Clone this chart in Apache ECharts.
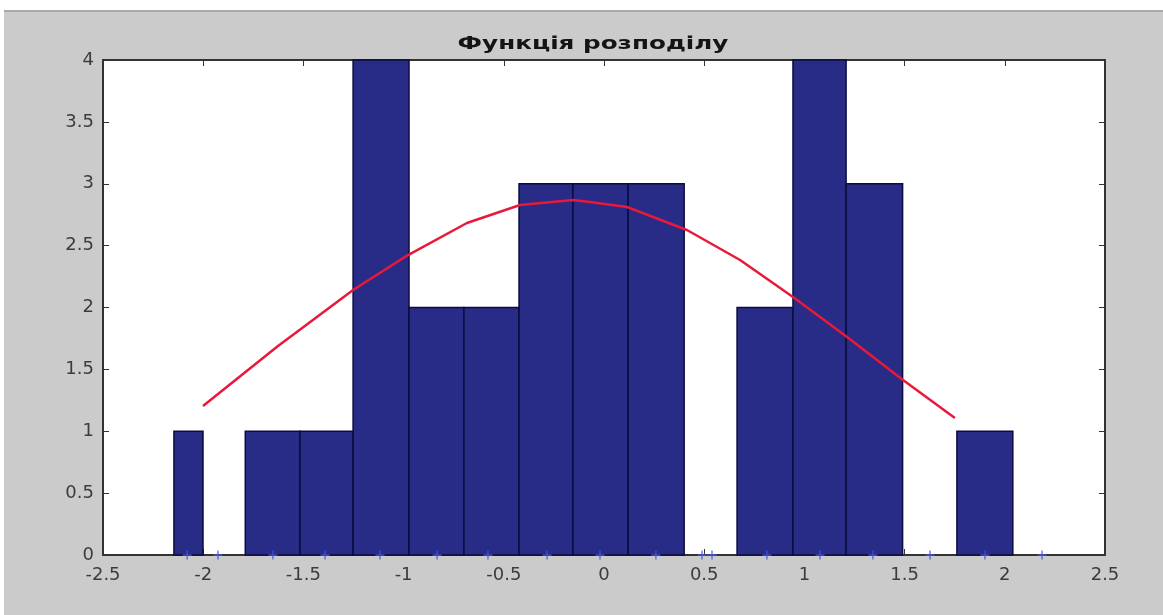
<!DOCTYPE html>
<html>
<head>
<meta charset="utf-8">
<script src="https://cdn.jsdelivr.net/npm/echarts@6/dist/echarts.min.js"></script>
<style>
  html, body { margin: 0; padding: 0; background: #ffffff; }
  #frame { position: absolute; left: 4px; top: 10px; width: 1159px; height: 605px; background: #cbcbcb; border-top: 2px solid #a9a9a9; }
  #chart { position: absolute; left: 0; top: 0; width: 1163px; height: 615px; }
</style>
</head>
<body>
<div id="frame"></div>
<div id="chart"></div>
<script>
// Histogram bins: left edge, right edge, count
const binLeft  = [-2.146, -1.79, -1.517, -1.252, -0.973, -0.699, -0.424, -0.155, 0.12, 0.664, 0.943, 1.208, 1.761];
const binRight = [-2.001, -1.517, -1.252, -0.973, -0.699, -0.424, -0.155, 0.12, 0.40, 0.943, 1.208, 1.49, 2.04];
const counts   = [1, 1, 1, 4, 2, 2, 3, 3, 3, 2, 4, 3, 1];

// Fitted density curve
const curveX = [-2.001, -1.63, -1.252, -0.978, -0.684, -0.419, -0.155, -0.07, 0.115, 0.414, 0.679, 0.943, 1.213, 1.492, 1.751];
const curveY = [1.204, 1.685, 2.141, 2.424, 2.683, 2.828, 2.869, 2.853, 2.812, 2.626, 2.384, 2.085, 1.762, 1.414, 1.107];

// Sample positions marked along the x axis
const markX = [-2.08, -1.926, -1.652, -1.392, -1.118, -0.833, -0.579, -0.284, -0.02, 0.259, 0.489, 0.539, 0.813, 1.078, 1.342, 1.627, 1.901, 2.186];

const xTicks = { min: -2.5, max: 2.5, interval: 0.5 };
const yTicks = { min: 0, max: 4, interval: 0.5 };

const titleText = 'Функція розподілу';

const labelFont = { fontFamily: 'DejaVu Sans, sans-serif', fontSize: 18, color: '#3c3c3c' };

const chart = echarts.init(document.getElementById('chart'), null, { renderer: 'canvas' });

const plusPath = 'path://M-0.7,-5 h1.4 v4.3 h4.3 v1.4 h-4.3 v4.3 h-1.4 v-4.3 h-4.3 v-1.4 h4.3 z';
const frameLine = { color: '#333', width: 2 };

chart.setOption({
  backgroundColor: 'transparent',
  animation: false,
  graphic: [
    {
      type: 'text',
      x: 593, y: 45,
      scaleX: 1.45,
      style: {
        text: titleText,
        align: 'center', verticalAlign: 'middle',
        font: 'bold 17px "DejaVu Sans", sans-serif',
        fill: '#141414'
      }
    }
  ],
  grid: { left: 103, right: 58, top: 60, bottom: 60, show: true, backgroundColor: '#ffffff', borderWidth: 0 },
  xAxis: [
    {
      type: 'value', min: xTicks.min, max: xTicks.max, interval: xTicks.interval,
      axisLine: { onZero: false, lineStyle: frameLine },
      axisTick: { inside: true, length: 6, lineStyle: { color: '#333' } },
      axisLabel: Object.assign({ margin: 11 }, labelFont),
      splitLine: { show: false }
    },
    {
      type: 'value', position: 'top', min: xTicks.min, max: xTicks.max, interval: xTicks.interval,
      axisLine: { onZero: false, lineStyle: frameLine },
      axisTick: { inside: true, length: 6, lineStyle: { color: '#333' } },
      axisLabel: { show: false }, splitLine: { show: false }
    }
  ],
  yAxis: [
    {
      type: 'value', min: yTicks.min, max: yTicks.max, interval: yTicks.interval,
      axisLine: { show: true, onZero: false, lineStyle: frameLine },
      axisTick: { show: true, inside: true, length: 6, lineStyle: { color: '#333' } },
      axisLabel: Object.assign({ margin: 9 }, labelFont),
      splitLine: { show: false }
    },
    {
      type: 'value', position: 'right', min: yTicks.min, max: yTicks.max, interval: yTicks.interval,
      axisLine: { show: true, onZero: false, lineStyle: frameLine },
      axisTick: { show: true, inside: true, length: 6, lineStyle: { color: '#333' } },
      axisLabel: { show: false }, splitLine: { show: false }
    }
  ],
  series: [
    {
      type: 'custom',
      name: 'hist',
      z: 2,
      data: binLeft.map((l, i) => [l, binRight[i], counts[i]]),
      encode: { x: [0, 1], y: 2 },
      renderItem: function (params, api) {
        const p0 = api.coord([api.value(0), api.value(2)]);
        const p1 = api.coord([api.value(1), 0]);
        return {
          type: 'rect',
          shape: { x: p0[0], y: p0[1], width: p1[0] - p0[0], height: p1[1] - p0[1] },
          style: { fill: '#282c86', stroke: '#0b0c3e', lineWidth: 1.5 }
        };
      }
    },
    {
      type: 'line',
      name: 'fit',
      z: 4,
      data: curveX.map((x, i) => [x, curveY[i]]),
      showSymbol: false,
      smooth: false,
      lineStyle: { color: '#e8193a', width: 2.5 }
    },
    {
      type: 'scatter',
      name: 'samples',
      z: 5,
      data: markX.map(x => [x, 0]),
      symbol: plusPath,
      symbolSize: 9,
      itemStyle: { color: '#4656d8', opacity: 0.9 }
    }
  ]
});
</script>
</body>
</html>
